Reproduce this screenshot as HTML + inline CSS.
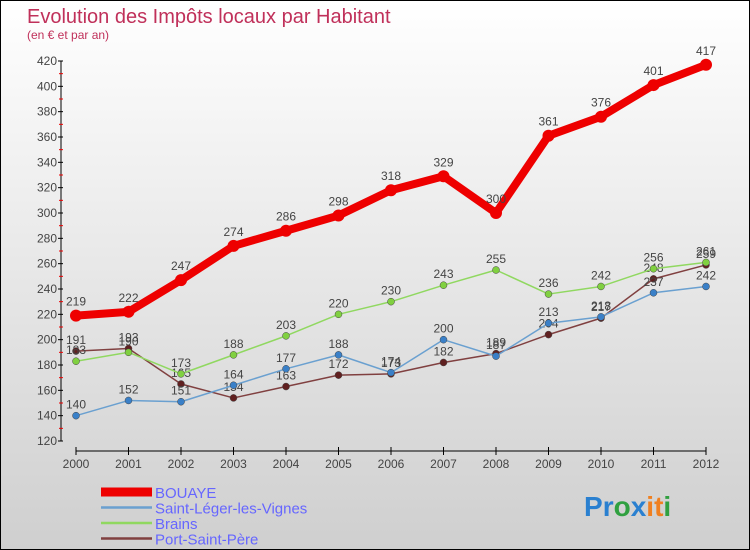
<!DOCTYPE html>
<html><head><meta charset="utf-8"><style>
body{margin:0}
#c{width:748px;height:548px;border:1px solid #000;background:linear-gradient(#fff,#cfcfcf);position:relative;font-family:"Liberation Sans",sans-serif;overflow:hidden}
svg{position:absolute;left:0;top:0}
</style></head><body>
<div id="c">
<svg id="s" width="748" height="548">
<text x="26" y="22" font-size="20" fill="#c0305a">Evolution des Impôts locaux par Habitant</text>
<text x="26" y="38" font-size="12" fill="#c0305a">(en € et par an)</text>
</svg>
</div>
<script>
const years=[2000,2001,2002,2003,2004,2005,2006,2007,2008,2009,2010,2011,2012];
const yTicks=[120,140,160,180,200,220,240,260,280,300,320,340,360,380,400,420];
const bouaye=[219,222,247,274,286,298,318,329,300,361,376,401,417];
const stLeger=[140,152,151,164,177,188,174,200,187,213,218,237,242];
const brains=[183,190,173,188,203,220,230,243,255,236,242,256,261];
const port=[191,193,165,154,163,172,173,182,189,204,217,248,259];
const series=[
 {name:'BOUAYE',v:bouaye,c:'#ee0000',w:8,r:6,lc:'#ee0000'},
 {name:'Saint-Léger-les-Vignes',v:stLeger,c:'#6aa0d0',w:1.5,r:3.5,lc:'#3a80c8'},
 {name:'Brains',v:brains,c:'#90d860',w:1.5,r:3.5,lc:'#80d040'},
 {name:'Port-Saint-Père',v:port,c:'#804040',w:1.5,r:3.5,lc:'#602020'}];
const ns='http://www.w3.org/2000/svg',s=document.getElementById('s');
const X=i=>75+i*52.5, Y=v=>440-(v-120)*380/300;
function el(t,a,p){const e=document.createElementNS(ns,t);for(const k in a)e.setAttribute(k,a[k]);(p||s).appendChild(e);return e;}
let e=el('line',{x1:60,y1:60,x2:60,y2:440,stroke:'#000'});

yTicks.forEach(t=>{el('line',{x1:57,y1:Y(t),x2:62,y2:Y(t),stroke:'#000'});
 if(t<420)el('line',{x1:58,y1:Y(t+10),x2:62,y2:Y(t+10),stroke:'#e00'});
 const tx=el('text',{x:56,y:Y(t)+4,'text-anchor':'end','font-size':12,fill:'#444'});tx.textContent=t;
 });
e=el('line',{x1:75,y1:450,x2:705,y2:450,stroke:'#000'});

years.forEach((y,i)=>{el('line',{x1:X(i),y1:446,x2:X(i),y2:454,stroke:'#000'});
 const tx=el('text',{x:X(i),y:467,'text-anchor':'middle','font-size':12,fill:'#444'});tx.textContent=y;
 });
[...series].reverse().forEach(sr=>{
 const g=el('g',{});
 el('polyline',{points:sr.v.map((v,i)=>X(i)+','+Y(v)).join(' '),fill:'none',stroke:sr.c,'stroke-width':sr.w,'stroke-linejoin':'round'},g);
 sr.v.forEach((v,i)=>{const p=el('circle',{cx:X(i),cy:Y(v),r:sr.r,fill:sr.lc,stroke:sr.w>2?'none':'#444','stroke-width':0.5},g);
  
  const t=el('text',{x:X(i),y:Y(v)-(sr.w>2?10:7),'text-anchor':'middle','font-size':12,fill:'#444'},g);t.textContent=v;
  });
});
series.forEach((sr,k)=>{const y=491+k*15.5;
 const g=el('g',{});
 el('line',{x1:100,y1:y,x2:151,y2:y,stroke:sr.c,'stroke-width':sr.w>2?9:2.5},g);
 const t=el('text',{x:154,y:y+6,'font-size':15,fill:'#6666ff'},g);t.textContent=sr.name;});
const logo=el('text',{x:583,y:515,'font-size':28,'font-weight':'bold'});

[['P','#2a80d0'],['r','#2a80d0'],['o','#30a040'],['x','#2a80d0'],['i','#f08020'],['t','#f08020'],['i','#30a040']].forEach(([c,f])=>{const ts=el('tspan',{fill:f},logo);ts.textContent=c;});
</script>
</body></html>
